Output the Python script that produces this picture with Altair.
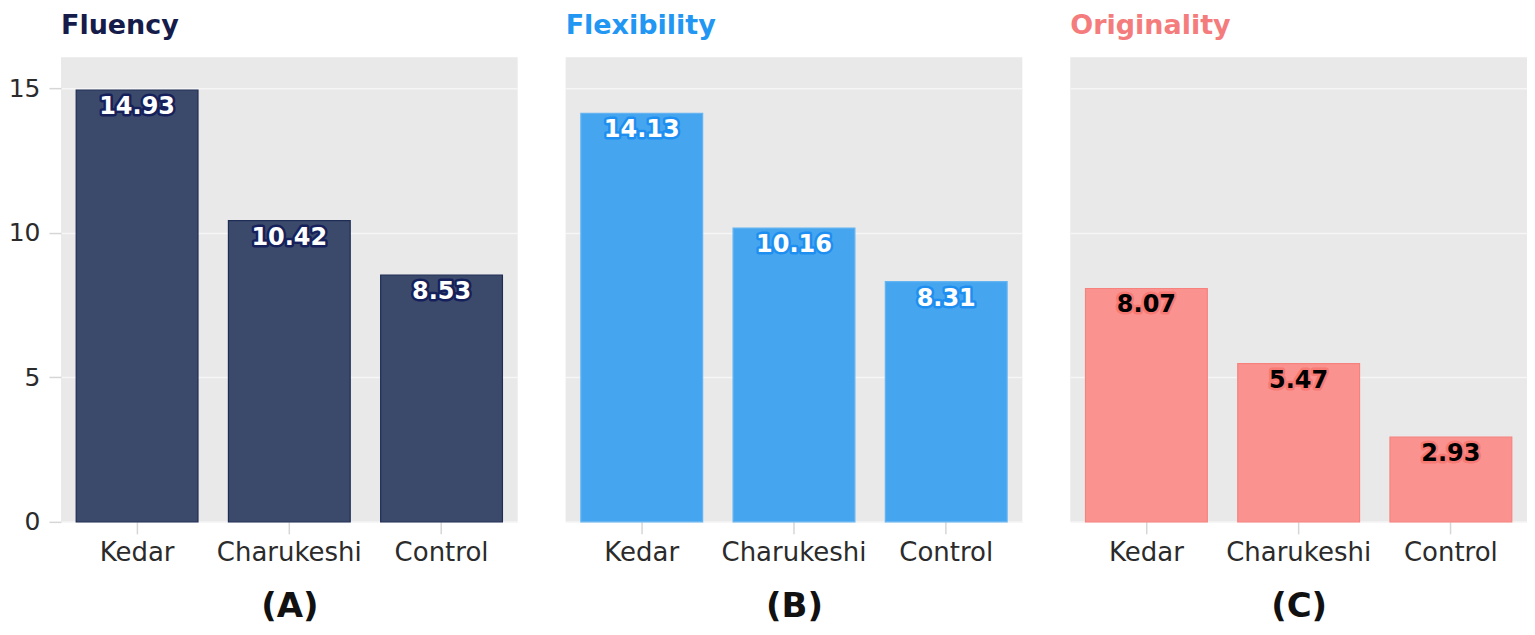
import altair as alt
import pandas as pd

groups = ["Kedar", "Charukeshi", "Control"]
fluency = [14.93, 10.42, 8.53]
flexibility = [14.13, 10.16, 8.31]
originality = [8.07, 5.47, 2.93]
panel_titles = ["Fluency", "Flexibility", "Originality"]
panel_letters = ["(A)", "(B)", "(C)"]
y_ticks = [0, 5, 10, 15]

series = [fluency, flexibility, originality]

styles = [
    dict(fill="#3b4a6b", stroke="#1f2c55", title="#161c4a", tfill="#ffffff", tstroke="#16205a"),
    dict(fill="#45a6ef", stroke="#63b4f2", title="#2196f3", tfill="#ffffff", tstroke="#1e8ef0"),
    dict(fill="#fa938f", stroke="#f7827d", title="#f47c7c", tfill="#000000", tstroke="#f77a75"),
]

FONT = "DejaVu Sans"
PW, PH = 457, 465


def panel(i):
    vals = series[i]
    st = styles[i]
    df = pd.DataFrame({
        "group": groups,
        "value": vals,
        "label": [f"{v:.2f}" for v in vals],
    })
    x = alt.X(
        "group:N",
        sort=groups,
        scale=alt.Scale(paddingInner=0.2, paddingOuter=0.1),
        axis=alt.Axis(
            title=panel_letters[i], labelAngle=0, domain=False,
            tickSize=12, tickColor="#d6d6d6", tickWidth=1.5,
            labelFontSize=26, labelColor="#2b2b2b", labelPadding=6,
            titleFontSize=34, titleFontWeight="bold", titleColor="#111111",
            titlePadding=24,
        ),
    )
    if i == 0:
        yaxis = alt.Axis(
            title=None, values=y_ticks, domain=False, grid=True,
            gridColor="#f6f6f6", gridWidth=1.5,
            tickSize=12, tickColor="#d6d6d6", tickWidth=1.5,
            labelFontSize=25, labelColor="#2b2b2b", labelPadding=9,
        )
    else:
        yaxis = alt.Axis(
            title=None, values=y_ticks, domain=False, grid=True,
            gridColor="#f6f6f6", gridWidth=1.5,
            ticks=False, labels=False,
        )
    y = alt.Y("value:Q", scale=alt.Scale(domain=[0, 16.07], nice=False), axis=yaxis)
    base = alt.Chart(df).encode(x=x, y=y)
    bars = base.mark_bar(fill=st["fill"], stroke=st["stroke"], strokeWidth=1.2)
    outline = base.mark_text(
        baseline="top", dy=5, fontSize=24, fontWeight="bold", font=FONT,
        fill=st["tstroke"], stroke=st["tstroke"], strokeWidth=5, strokeJoin="round",
    ).encode(text="label:N")
    txt = base.mark_text(
        baseline="top", dy=5, fontSize=24, fontWeight="bold", font=FONT,
        fill=st["tfill"],
    ).encode(text="label:N")
    return alt.layer(bars, outline, txt).properties(
        width=PW, height=PH,
        title=alt.TitleParams(
            text=panel_titles[i], anchor="start", frame="group",
            fontSize=27, fontWeight="bold", color=st["title"], font=FONT,
            offset=17,
        ),
    )


chart = alt.hconcat(panel(0), panel(1), panel(2), spacing=48).properties(
    padding={"left": 0, "top": 4, "right": 0, "bottom": 0}, background="white"
).configure_view(
    fill="#e9e9e9", stroke=None
).configure_axis(
    labelFont=FONT, titleFont=FONT
)

chart.save("out.html", embed_options={"renderer": "svg", "actions": False})
